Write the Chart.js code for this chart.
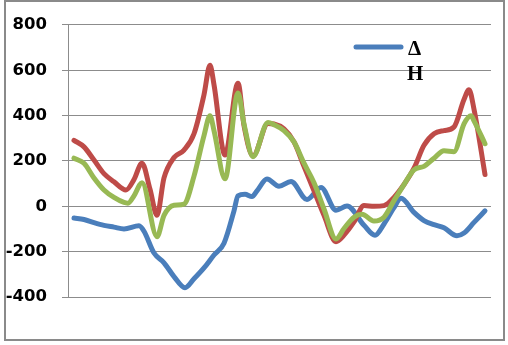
<!DOCTYPE html>
<html>
<head>
<meta charset="utf-8">
<script src="https://cdn.jsdelivr.net/npm/chart.js@4"></script>
<style>
html,body{margin:0;padding:0;background:#fff;}
#wrap{position:relative;width:508px;height:345px;}
</style>
</head>
<body>
<div id="wrap"><canvas id="c" width="508" height="345"></canvas></div>
<script>
// sample positions (index units) and values for each series
const blueT = [0,1,2,3,4,5,6.5,7,8,9,10,11.1,12,13,14,15,16,16.4,17.1,17.8,18.3,19.3,20.5,21.7,23.3,24.7,26.2,27.3,29,30.1,31,32,32.7,34,35,36,37,38.3,39,40,41.1];
const blueV = [-52,-58,-72,-84,-92,-100,-86,-110,-206,-249,-310,-359,-320,-272,-215,-163,-20,46,53,43,68,120,88,109,30,83,-17,1,-84,-128,-78,-6,35,-27,-63,-81,-95,-130,-118,-71,-20];

const redT = [0,1,2,3,4,5.2,6,6.8,7.6,8.3,9,10,11,12,13,13.6,14,15.1,16.4,17,17.9,19.4,20,21,22,23,24,25,26.2,27,28,29,30,31,32,33,34,35,36,37,38,39,39.5,40,41.1];
const redV = [291,262,204,144,108,72,118,190,75,-40,125,215,248,320,492,622,536,226,543,356,222,365,363,341,284,176,68,-40,-156,-127,-69,3,0,3,39,96,168,269,320,334,350,471,514,428,140];

const greenT = [0,1,2,3,4,5,5.4,6,6.8,8.3,9,10,11,12,13,13.6,14,15.1,16.4,17,17.9,19.4,20,21,22,23,24,25,26.2,27,28,28.8,30,31,32,33,34,35,36,37,38,39,39.7,40,41.1];
const greenV = [212,190,125,72,39,17,14,46,104,-134,-40,5,10,133,312,399,334,121,500,363,219,370,360,334,284,190,104,-12,-144,-98,-48,-35,-65,-48,25,96,161,176,212,245,241,363,399,377,276];

const yTicks = [-400,-200,0,200,400,600,800];
const legendLines = ['Δ','H'];

const BLUE = '#4A7EBB', RED = '#BE4B48', GREEN = '#98B954';
const pts = (t, v) => t.map((x, i) => ({x: x, y: v[i]}));

const framePlugin = {
  id: 'frame',
  beforeDraw(chart) {
    const ctx = chart.ctx;
    ctx.save();
    ctx.fillStyle = '#fff';
    ctx.fillRect(0, 0, chart.width, chart.height);
    ctx.strokeStyle = '#8a8a8a';
    ctx.lineWidth = 2;
    ctx.strokeRect(5, 1, 499, 339);
    ctx.restore();
  },
  afterDraw(chart) {
    const ctx = chart.ctx;
    ctx.save();
    ctx.strokeStyle = BLUE;
    ctx.lineWidth = 5;
    ctx.lineCap = 'round';
    ctx.beginPath();
    ctx.moveTo(356, 47);
    ctx.lineTo(401, 47);
    ctx.stroke();
    ctx.fillStyle = '#000';
    ctx.font = 'bold 21px "Liberation Serif"';
    ctx.textBaseline = 'alphabetic';
    ctx.fillText(legendLines[0], 408, 55);
    ctx.fillText(legendLines[1], 407, 80);
    ctx.restore();
  }
};

const common = {borderWidth: 5, pointRadius: 0, fill: false, cubicInterpolationMode: 'monotone', borderCapStyle: 'round', borderJoinStyle: 'round'};

new Chart(document.getElementById('c'), {
  type: 'line',
  data: {
    datasets: [
      Object.assign({label: 'Δ H', data: pts(blueT, blueV), borderColor: BLUE, order: 2}, common),
      Object.assign({label: 'red', data: pts(redT, redV), borderColor: RED, order: 1}, common),
      Object.assign({label: 'green', data: pts(greenT, greenV), borderColor: GREEN, order: 0}, common)
    ]
  },
  options: {
    responsive: false,
    animation: false,
    devicePixelRatio: 1,
    layout: {padding: {left: 0, top: 19, right: 17, bottom: 48}},
    plugins: {legend: {display: false}, tooltip: {enabled: false}},
    scales: {
      x: {type: 'linear', min: -0.6, max: 41.7, display: false},
      y: {
        min: -400, max: 800,
        afterFit(s) { s.width = 68; },
        afterBuildTicks(s) { s.ticks = yTicks.map(v => ({value: v})); },
        grid: {color: '#8c8c8c', lineWidth: 1, tickLength: 6, drawTicks: true},
        border: {display: true, color: '#8c8c8c', width: 1},
        ticks: {color: '#000', padding: 15, font: {family: 'DejaVu Sans', weight: 'bold', size: 16.5}}
      }
    }
  },
  plugins: [framePlugin]
});
</script>
</body>
</html>
